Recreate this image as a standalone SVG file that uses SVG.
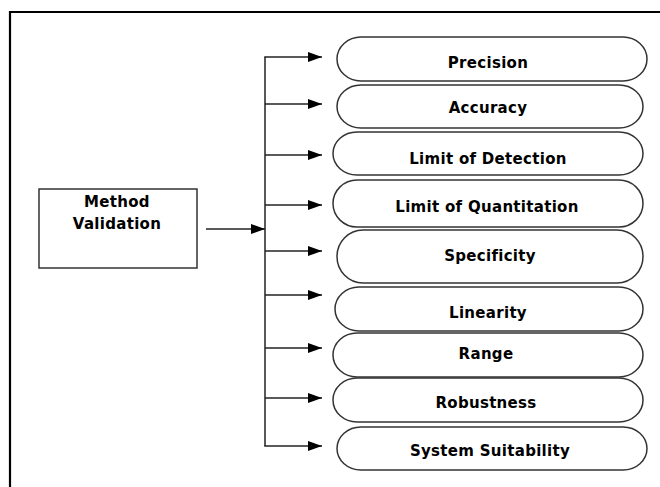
<svg xmlns="http://www.w3.org/2000/svg" width="660" height="487" viewBox="0 0 660 487">
<defs>
<marker id="ah" markerWidth="14" markerHeight="10" refX="14" refY="5" orient="auto" markerUnits="userSpaceOnUse">
<path d="M0,0 L14,5 L0,10 Z" fill="#000"/>
</marker>
<style>
.pill{fill:#fff;stroke:#333;stroke-width:1.5}
.box{fill:#fff;stroke:#333;stroke-width:1.5}
.t{font-family:"DejaVu Sans",Verdana,sans-serif;font-weight:bold;font-size:15px;letter-spacing:0.3px;fill:#000;text-anchor:middle}
.c{fill:none;stroke:#222;stroke-width:1.5}
</style>
</defs>
<rect width="660" height="487" fill="#fff"/>
<path d="M10,487 V12 H660" fill="none" stroke="#000" stroke-width="2.2"/>
<g id="method-validation">
<rect class="box" x="39" y="189" width="158" height="79"/>
<text class="t" x="117" y="207">Method</text>
<text class="t" x="117" y="229">Validation</text>
</g>
<g id="connectors">
<path class="c" d="M206,229 H265" marker-end="url(#ah)"/>
<path class="c" d="M265,57 V446"/>
<path class="c" d="M264.25,57 H322" marker-end="url(#ah)"/>
<path class="c" d="M265,104 H322" marker-end="url(#ah)"/>
<path class="c" d="M265,155 H322" marker-end="url(#ah)"/>
<path class="c" d="M265,205 H322" marker-end="url(#ah)"/>
<path class="c" d="M265,251 H322" marker-end="url(#ah)"/>
<path class="c" d="M265,295 H322" marker-end="url(#ah)"/>
<path class="c" d="M265,348 H322" marker-end="url(#ah)"/>
<path class="c" d="M265,398 H322" marker-end="url(#ah)"/>
<path class="c" d="M264.25,446 H322" marker-end="url(#ah)"/>
</g>
<g id="precision">
<rect class="pill" x="337" y="37" width="310" height="44" rx="24" ry="22"/>
<text class="t" x="488" y="68">Precision</text>
</g>
<g id="accuracy">
<rect class="pill" x="337" y="85" width="306" height="43" rx="24" ry="21.5"/>
<text class="t" x="488" y="113">Accuracy</text>
</g>
<g id="limit-of-detection">
<rect class="pill" x="333" y="132" width="310" height="43" rx="24" ry="21.5"/>
<text class="t" x="488" y="164">Limit of Detection</text>
</g>
<g id="limit-of-quantitation">
<rect class="pill" x="333" y="180" width="310" height="47" rx="24" ry="23.5"/>
<text class="t" x="487" y="212">Limit of Quantitation</text>
</g>
<g id="specificity">
<rect class="pill" x="337" y="230" width="306" height="53" rx="26" ry="26.5"/>
<text class="t" x="490" y="261">Specificity</text>
</g>
<g id="linearity">
<rect class="pill" x="335" y="287" width="308" height="44" rx="24" ry="22"/>
<text class="t" x="488" y="318">Linearity</text>
</g>
<g id="range">
<rect class="pill" x="333" y="333" width="310" height="44" rx="24" ry="22"/>
<text class="t" x="486" y="359">Range</text>
</g>
<g id="robustness">
<rect class="pill" x="333" y="378" width="310" height="44" rx="24" ry="22"/>
<text class="t" x="486" y="408">Robustness</text>
</g>
<g id="system-suitability">
<rect class="pill" x="337" y="427" width="310" height="43" rx="24" ry="21.5"/>
<text class="t" x="490" y="456">System Suitability</text>
</g>
</svg>
